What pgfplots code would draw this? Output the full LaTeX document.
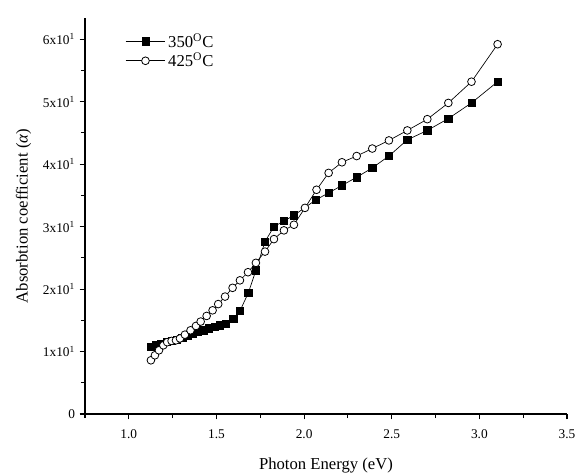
\documentclass[border=0pt]{standalone}
\usepackage{pgfplots}
\pgfplotsset{compat=1.18}
\usepackage{fontspec}
\setmainfont{Liberation Serif}

\pgfplotstableread{
x      y
1.126  10.7
1.155  11.0
1.185  11.2
1.215  11.5
1.245  11.7
1.275  11.9
1.305  12.2
1.335  12.5
1.365  12.8
1.395  13.1
1.425  13.4
1.455  13.7
1.490  14.0
1.520  14.2
1.555  14.4
1.596  15.3
1.634  16.5
1.682  19.4
1.725  23.0
1.777  27.6
1.828  30.0
1.885  30.9
1.942  31.8
2.068  34.3
2.140  35.4
2.216  36.6
2.300  37.9
2.389  39.4
2.484  41.3
2.589  43.9
2.703  45.4
2.823  47.3
2.955  49.8
3.104  53.2
}\tabA

\pgfplotstableread{
x      y
1.126   8.6
1.149   9.4
1.172  10.2
1.197  11.0
1.219  11.5
1.244  11.7
1.269  11.8
1.292  12.1
1.320  12.7
1.352  13.4
1.383  14.1
1.410  14.8
1.444  15.7
1.478  16.6
1.510  17.6
1.549  18.8
1.592  20.2
1.634  21.4
1.680  22.7
1.725  24.2
1.777  26.0
1.828  28.0
1.885  29.4
1.942  30.3
2.005  33.0
2.071  35.9
2.140  38.6
2.216  40.3
2.300  41.3
2.389  42.5
2.484  43.8
2.589  45.4
2.703  47.2
2.823  49.8
2.955  53.2
3.104  59.2
}\tabB

\begin{document}
\begin{tikzpicture}
\begin{axis}[
  name=ax,
  scale only axis,
  width=361.5pt, height=297pt,
  axis lines=left,
  axis line style={-, line width=0.9pt},
  xmin=0.75, xmax=3.5, ymin=0, ymax=63.4,
  xtick={1.0,1.5,...,3.5},
  minor xtick={0.75,1.25,...,3.25},
  ytick={0,10,...,60},
  minor ytick={5,15,...,55},
  yticklabels={0,1x10\textsuperscript{1},2x10\textsuperscript{1},3x10\textsuperscript{1},4x10\textsuperscript{1},5x10\textsuperscript{1},6x10\textsuperscript{1}},
  tick align=outside,
  major tick length=4pt, minor tick length=3pt,
  every tick/.style={black, line width=0.8pt},
  tick label style={font=\fontsize{10}{12}\selectfont},
  xticklabel style={yshift=-4pt, /pgf/number format/.cd, fixed, fixed zerofill, precision=1, assume math mode=true},
  xlabel={Photon Energy (eV)},
  ylabel={Absorbtion coefficient (\textit{α})},
  label style={font=\fontsize{12.5}{14}\selectfont},
  xlabel style={yshift=-8pt},
  ylabel style={yshift=2pt},
  legend style={draw=none, fill=none, at={(0.075,0.975)}, anchor=north west,
    font=\fontsize{12.5}{14}\selectfont, row sep=-1pt},
  legend cell align=left,
  legend image code/.code={
    \draw[mark repeat=2, mark phase=2] plot coordinates {(0cm,0cm) (0.52cm,0cm) (1.04cm,0cm)};},
  every axis plot/.append style={black, line width=0.5pt},
]
\addplot[mark=square*, mark size=2.7pt, mark options={fill=black}] table[x=x,y=y] {\tabA};
\addlegendentry{350\textsuperscript{O}C}
\addplot[mark=*, mark size=2.9pt, mark options={fill=white, line width=0.6pt}] table[x=x,y=y] {\tabB};
\addlegendentry{425\textsuperscript{O}C}
\end{axis}
\pgfresetboundingbox
\path ([shift={(-63.75pt,-45.75pt)}]ax.south west) rectangle ([shift={(371.25pt,310.5pt)}]ax.south west);
\end{tikzpicture}
\end{document}
